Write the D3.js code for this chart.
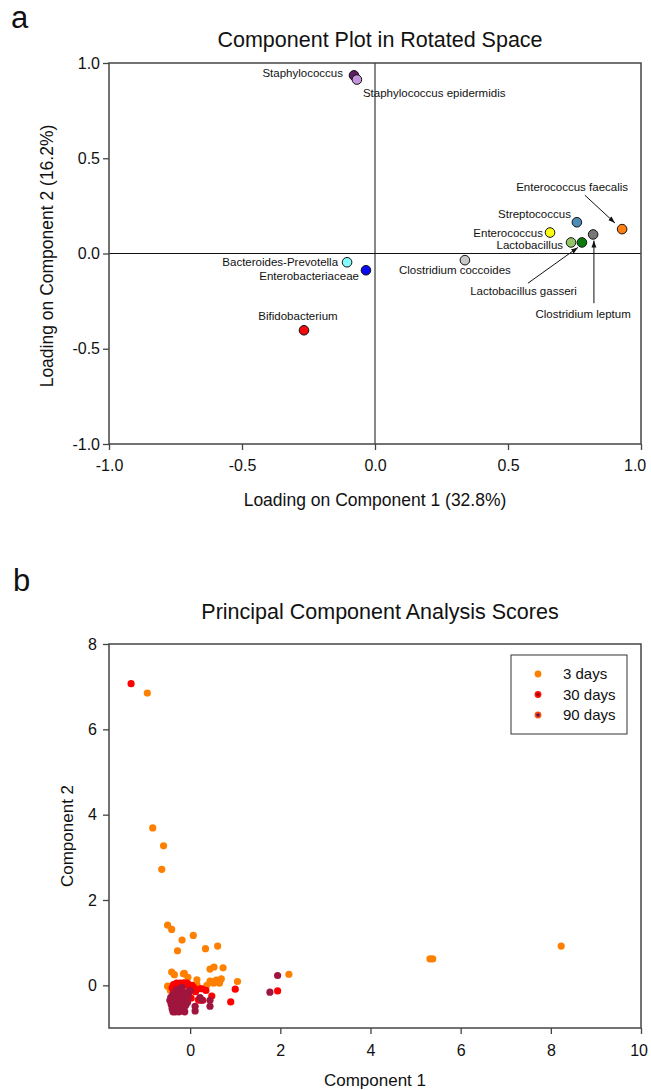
<!DOCTYPE html>
<html>
<head>
<meta charset="utf-8">
<script src="https://cdn.jsdelivr.net/npm/d3@7"></script>
<style>
  body { margin: 0; background: #fff; }
  text { font-family: "Liberation Sans", Arial, sans-serif; fill: #111; }
</style>
</head>
<body>
<script>
// ---- panel a: loadings
var taxa = ["Staphylococcus", "Staphylococcus epidermidis", "Bacteroides-Prevotella",
            "Enterobacteriaceae", "Bifidobacterium", "Clostridium coccoides", "Enterococcus",
            "Streptococcus", "Lactobacillus", "Lactobacillus gasseri", "Clostridium leptum",
            "Enterococcus faecalis"];
var comp1 = [-0.079, -0.068, -0.105, -0.034, -0.267, 0.338, 0.658, 0.759, 0.737, 0.778, 0.820, 0.929];
var comp2 = [0.935, 0.913, -0.046, -0.088, -0.403, -0.035, 0.110, 0.164, 0.058, 0.058, 0.100, 0.128];
var axisTicksA = [-1.0, -0.5, 0.0, 0.5, 1.0];

// ---- panel b: scores (component 1, component 2)
var scores3 = [[-0.95,6.85],[8.23,0.92],[5.32,0.62],[5.38,0.62],[-0.83,3.69],[-0.59,3.27],[-0.63,2.72],
  [-0.50,1.41],[-0.41,1.31],[0.07,1.17],[-0.18,1.06],[-0.28,0.81],[0.34,0.86],[0.61,0.92],[0.53,0.43],
  [0.44,0.38],[0.73,0.41],[-0.41,0.31],[-0.35,0.25],[-0.13,0.28],[-0.05,0.19],[0.15,0.13],[0.44,0.10],
  [0.52,0.05],[0.69,0.15],[0.65,0.05],[1.05,0.09],[2.19,0.26],[-0.50,-0.02],[-0.44,-0.12],[0.15,0.02],
  [0.58,0.12],[-0.44,-0.37],[0.37,0.00],[-0.15,0.27],[0.48,0.08]];
var scores30 = [[-1.31,7.07],[1.94,-0.13],[1.00,-0.09],[0.90,-0.39],[0.35,-0.12],[0.26,-0.08],[0.18,-0.34],
  [0.48,-0.25],[0.28,-0.35],[-0.37,0.02],[-0.22,0.05],[-0.06,0.05],[0.04,0.00],[0.22,-0.08],[-0.30,0.05],
  [-0.14,0.06],[-0.10,0.02],[-0.40,-0.06],[-0.28,-0.02],[-0.18,-0.05],[-0.02,-0.04],[0.08,-0.05],
  [-0.13,-0.27],[0.21,-0.35],[-0.35,-0.12],[-0.08,-0.18],[0.12,-0.15],[-0.20,-0.38],[0.02,-0.30],[-0.32,-0.30]];
var scores90 = [[1.94,0.23],[1.77,-0.16],[0.44,-0.35],[0.44,-0.49],[0.11,-0.49],[0.11,-0.60],[0.22,-0.29],
  [0.00,-0.12],[-0.11,-0.18],[0.26,-0.35],[-0.02,-0.16],[-0.45,-0.35],[-0.42,-0.45],[-0.40,-0.55],
  [-0.38,-0.62],[-0.35,-0.28],[-0.33,-0.40],[-0.32,-0.50],[-0.30,-0.58],[-0.28,-0.20],[-0.27,-0.33],
  [-0.26,-0.45],[-0.25,-0.62],[-0.23,-0.10],[-0.22,-0.27],[-0.21,-0.40],[-0.20,-0.52],[-0.19,-0.60],
  [-0.17,-0.15],[-0.16,-0.30],[-0.15,-0.45],[-0.14,-0.56],[-0.12,-0.35],[-0.10,-0.47],[-0.08,-0.25],
  [-0.06,-0.40],[-0.38,-0.20],[-0.43,-0.28],[-0.36,-0.50],[-0.29,-0.44],[-0.24,-0.53],[-0.18,-0.05],
  [-0.05,-0.30],[-0.30,-0.10],[-0.12,-0.62],[-0.33,-0.62]];
var groupNames = ["3 days", "30 days", "90 days"];
var xTicksB = [0, 2, 4, 6, 8, 10];
var yTicksB = [0, 2, 4, 6, 8];

// ---- styling / layout (not data)
var taxaColors = ["#5e1f60", "#c394d9", "#86fbfb", "#0a0af0", "#f00a0a", "#c8c8c8", "#fbfb10",
                  "#4b8db5", "#93c467", "#0a7a0a", "#777777", "#ff7f10"];
// label offset from its point in px: [dx, dy, anchor]
var labelPlace = [[-11,-2,"end"],[6,13,"start"],[-9,0,"end"],[-7,6,"end"],[-6,-14,"middle"],
                  [-10,10,"middle"],[-7,0,"end"],[-6,-8,"end"],[-8,3,"end"],[-5,49,"end"],
                  [-10,80,"middle"],[-50,-42,"middle"]];
// arrows (in loading units): [fromX, fromY, toX, toY]
var arrowsA = [[0.789,0.306,0.902,0.160],[0.575,-0.156,0.763,0.032],[0.823,-0.261,0.823,0.068]];
var groupColors = ["#ff8000", "#ff0000", "#a0153e"];
var frameColor = "#444";

var svg = d3.select("body").append("svg").attr("width", 651).attr("height", 1090);

svg.append("defs").append("marker")
  .attr("id", "arr").attr("viewBox", "0 0 10 10").attr("refX", 10).attr("refY", 5)
  .attr("markerWidth", 7).attr("markerHeight", 7).attr("orient", "auto")
  .append("path").attr("d", "M0,1.5 L10,5 L0,8.5 Z").attr("fill", "#111");

function styleAxis(a) {
  a.select(".domain").remove();
  a.selectAll("line").attr("stroke", frameColor).attr("stroke-width", 1.3);
  a.selectAll("text").attr("font-size", 16).attr("fill", "#111")
    .attr("font-family", "'Liberation Sans', Arial, sans-serif");
}

// ================= panel a =================
var xA = d3.scaleLinear().domain([-1, 1]).range([109, 641]);
var yA = d3.scaleLinear().domain([-1, 1]).range([444, 63]);

svg.append("text").attr("x", 11).attr("y", 28).attr("font-size", 31).text("a");
svg.append("text").attr("x", 380).attr("y", 47).attr("text-anchor", "middle")
  .attr("font-size", 21.5).text("Component Plot in Rotated Space");

var gA = svg.append("g");
// zero lines
gA.append("line").attr("x1", xA(0)).attr("x2", xA(0)).attr("y1", yA(1)).attr("y2", yA(-1))
  .attr("stroke", "#111").attr("stroke-width", 1);
gA.append("line").attr("x1", xA(-1)).attr("x2", xA(1)).attr("y1", yA(0)).attr("y2", yA(0))
  .attr("stroke", "#111").attr("stroke-width", 1);

gA.append("rect").attr("x", xA(-1)).attr("y", yA(1))
  .attr("width", xA(1) - xA(-1)).attr("height", yA(-1) - yA(1))
  .attr("fill", "none").attr("stroke", frameColor).attr("stroke-width", 1.5);

var fmt1 = function(d) { return d.toFixed(1); };
var axAx = gA.append("g").attr("transform", "translate(0," + yA(-1) + ")")
  .call(d3.axisBottom(xA).tickValues(axisTicksA).tickFormat(fmt1).tickSize(6).tickPadding(10))
  .call(styleAxis);
// last label sits at the page edge: pull it in a little
axAx.selectAll(".tick text").filter(function(d) { return d === 1; }).attr("dx", "-0.4em");
gA.append("g").attr("transform", "translate(" + xA(-1) + ",0)")
  .call(d3.axisLeft(yA).tickValues(axisTicksA).tickFormat(fmt1).tickSize(6).tickPadding(3))
  .call(styleAxis);

svg.append("text").attr("x", 375).attr("y", 506).attr("text-anchor", "middle")
  .attr("font-size", 17.5).text("Loading on Component 1 (32.8%)");
svg.append("text").attr("transform", "translate(53,256) rotate(-90)").attr("text-anchor", "middle")
  .attr("font-size", 17.5).text("Loading on Component 2 (16.2%)");

// arrows
gA.selectAll(".arrow").data(arrowsA).enter().append("line")
  .attr("x1", function(d) { return xA(d[0]); }).attr("y1", function(d) { return yA(d[1]); })
  .attr("x2", function(d) { return xA(d[2]); }).attr("y2", function(d) { return yA(d[3]); })
  .attr("stroke", "#111").attr("stroke-width", 1).attr("marker-end", "url(#arr)");

// points
gA.selectAll(".pt").data(taxa).enter().append("circle")
  .attr("cx", function(d, i) { return xA(comp1[i]); })
  .attr("cy", function(d, i) { return yA(comp2[i]); })
  .attr("r", 4.8).attr("fill", function(d, i) { return taxaColors[i]; })
  .attr("stroke", "#111").attr("stroke-width", 1);

gA.selectAll(".lbl").data(taxa).enter().append("text")
  .attr("x", function(d, i) { return xA(comp1[i]) + labelPlace[i][0]; })
  .attr("y", function(d, i) { return yA(comp2[i]) + labelPlace[i][1]; })
  .attr("dy", "0.35em").attr("text-anchor", function(d, i) { return labelPlace[i][2]; })
  .attr("font-size", 11.5).text(function(d) { return d; });

// ================= panel b =================
var xB = d3.scaleLinear().domain([-1.8, 10]).range([109, 641]);
var yB = d3.scaleLinear().domain([-1, 8]).range([1028, 644]);

svg.append("text").attr("x", 13).attr("y", 591).attr("font-size", 31).text("b");
svg.append("text").attr("x", 380).attr("y", 619).attr("text-anchor", "middle")
  .attr("font-size", 21.5).text("Principal Component Analysis Scores");

var gB = svg.append("g");
gB.append("rect").attr("x", xB(-1.8)).attr("y", yB(8))
  .attr("width", xB(10) - xB(-1.8)).attr("height", yB(-1) - yB(8))
  .attr("fill", "none").attr("stroke", frameColor).attr("stroke-width", 1.5);

var axBx = gB.append("g").attr("transform", "translate(0," + yB(-1) + ")")
  .call(d3.axisBottom(xB).tickValues(xTicksB).tickFormat(d3.format("d")).tickSize(6).tickPadding(11))
  .call(styleAxis);
axBx.selectAll(".tick text").filter(function(d) { return d === 10; }).attr("dx", "-0.15em");
gB.append("g").attr("transform", "translate(" + xB(-1.8) + ",0)")
  .call(d3.axisLeft(yB).tickValues(yTicksB).tickFormat(d3.format("d")).tickSize(6).tickPadding(6))
  .call(styleAxis);

svg.append("text").attr("x", 375).attr("y", 1086).attr("text-anchor", "middle")
  .attr("font-size", 17).text("Component 1");
svg.append("text").attr("transform", "translate(73,836) rotate(-90)").attr("text-anchor", "middle")
  .attr("font-size", 17).text("Component 2");

[scores3, scores30, scores90].forEach(function(set, gi) {
  gB.append("g").selectAll("circle").data(set).enter().append("circle")
    .attr("cx", function(d) { return xB(d[0]); })
    .attr("cy", function(d) { return yB(d[1]); })
    .attr("r", 3.6).attr("fill", groupColors[gi]);
});

// legend
var leg = gB.append("g").attr("transform", "translate(511,655)");
leg.append("rect").attr("width", 116).attr("height", 79)
  .attr("fill", "#fff").attr("stroke", "#333").attr("stroke-width", 1);
var legInner = ["#ff8000", "#b00000", "#6a1050"];
var legOuter = ["#ff8000", "#ff1000", "#ff5010"];
groupNames.forEach(function(name, i) {
  var yy = 19 + i * 20.5;
  leg.append("circle").attr("cx", 27).attr("cy", yy).attr("r", 3.4).attr("fill", legOuter[i]);
  if (i > 0) leg.append("circle").attr("cx", 27).attr("cy", yy).attr("r", 1.8).attr("fill", legInner[i]);
  leg.append("text").attr("x", 52).attr("y", yy).attr("dy", "0.35em")
    .attr("font-size", 15).text(name);
});
</script>
</body>
</html>
